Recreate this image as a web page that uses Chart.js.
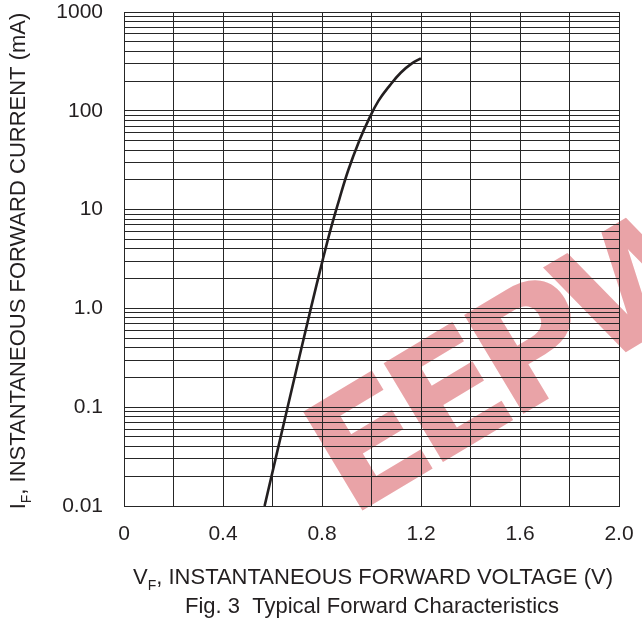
<!DOCTYPE html>
<html>
<head>
<meta charset="utf-8">
<script src="https://cdn.jsdelivr.net/npm/chart.js@4.4.1/dist/chart.umd.min.js"></script>
<style>
html, body { margin: 0; padding: 0; background: #fff; }
</style>
</head>
<body>
<canvas id="myChart" width="642" height="622"></canvas>
<script>
// forward voltage (V) vs instantaneous forward current (mA)
const vf = [0.568, 0.661, 0.755, 0.803, 0.834, 0.869, 0.906, 0.951, 0.988, 1.028, 1.075, 1.119, 1.162, 1.2];
const ifw = [0.01, 0.1, 1.0, 3.1, 6.2, 12.5, 25, 50, 81, 126, 182, 244, 300, 340];

const xLabels = ['0', '0.4', '0.8', '1.2', '1.6', '2.0'];
const yDecades = [0.01, 0.1, 1, 10, 100, 1000];
const yLabels = ['0.01', '0.1', '1.0', '10', '100', '1000'];
const yMinor = [1, 2, 3, 4, 5, 6, 7, 8, 9];

const xTitle = ['V', 'F', ', INSTANTANEOUS FORWARD VOLTAGE (V)'];
const yTitle = ['I', 'F', ', INSTANTANEOUS FORWARD CURRENT (mA)'];
const caption = 'Fig. 3  Typical Forward Characteristics';
const mark = 'EEPW';

const FONT = '"Liberation Sans", Arial, sans-serif';
const INK = '#231f20';
const GRID = '#262626';

// grid every 1..9 per decade, like the log paper
let yGrid = [];
yDecades.slice(0, -1).forEach(d => {
    yMinor.forEach(m => yGrid.push(Number((d * m).toPrecision(6))));
});
yGrid.push(1000);

function drawSub(ctx, parts, big, small, drop) {
    ctx.font = big + 'px ' + FONT;
    const w0 = ctx.measureText(parts[0]).width;
    const w2 = ctx.measureText(parts[2]).width;
    ctx.font = small + 'px ' + FONT;
    const w1 = ctx.measureText(parts[1]).width;
    let x = -(w0 + w1 + w2) / 2;
    ctx.textAlign = 'left';
    ctx.textBaseline = 'alphabetic';
    ctx.font = big + 'px ' + FONT;
    ctx.fillText(parts[0], x, 0);
    x += w0;
    ctx.font = small + 'px ' + FONT;
    ctx.fillText(parts[1], x, drop);
    x += w1;
    ctx.font = big + 'px ' + FONT;
    ctx.fillText(parts[2], x, 0);
}

const watermark = {
    id: 'watermark',
    beforeDraw(chart) {
        const ctx = chart.ctx;
        ctx.save();
        ctx.fillStyle = '#fff';
        ctx.fillRect(0, 0, chart.width, chart.height);
        ctx.translate(350, 518);
        ctx.rotate(-31 * Math.PI / 180);
        ctx.font = 'bold 158px "DejaVu Sans"';
        ctx.letterSpacing = '-14px';
        ctx.fillStyle = '#e9a3a7';
        ctx.textBaseline = 'alphabetic';
        ctx.fillText(mark, 0, 0);
        ctx.restore();
    }
};

const titles = {
    id: 'titles',
    afterDraw(chart) {
        const ctx = chart.ctx;
        ctx.save();
        ctx.fillStyle = INK;
        ctx.save();
        ctx.translate(373, 584);
        drawSub(ctx, xTitle, 22, 14, 6);
        ctx.restore();
        ctx.save();
        ctx.translate(25, 261);
        ctx.rotate(-Math.PI / 2);
        drawSub(ctx, yTitle, 22, 14, 6);
        ctx.restore();
        ctx.font = '22px ' + FONT;
        ctx.textAlign = 'center';
        ctx.fillText(caption, 372, 613);
        ctx.restore();
    }
};

const ctx = document.getElementById('myChart').getContext('2d');
const myChart = new Chart(ctx, {
    type: 'line',
    data: {
        datasets: [{
            data: vf.map((v, i) => ({ x: v, y: ifw[i] })),
            borderColor: INK,
            borderWidth: 2.6,
            pointRadius: 0,
            fill: false,
            tension: 0.4
        }]
    },
    options: {
        responsive: false,
        animation: false,
        devicePixelRatio: 1,
        layout: { padding: { top: 12, right: 23, bottom: 0, left: 0 } },
        plugins: { legend: { display: false }, tooltip: { enabled: false } },
        scales: {
            x: {
                type: 'linear',
                min: 0,
                max: 2,
                afterFit(s) {
                    s.height = 116;
                    s.paddingLeft = 0;
                    s.paddingRight = 0;
                },
                ticks: {
                    stepSize: 0.2,
                    autoSkip: false,
                    maxRotation: 0,
                    padding: 16,
                    color: INK,
                    font: { family: FONT, size: 21 },
                    callback: (v, i) => (i % 2 === 0 ? xLabels[i / 2] : '')
                },
                grid: { color: GRID, lineWidth: 1, drawTicks: false },
                border: { color: GRID }
            },
            y: {
                type: 'logarithmic',
                min: 0.01,
                max: 1000,
                afterFit(s) {
                    s.width = 124;
                    s.paddingTop = 0;
                    s.paddingBottom = 0;
                },
                afterBuildTicks(s) { s.ticks = yGrid.map(v => ({ value: v })); },
                ticks: {
                    autoSkip: false,
                    padding: 21,
                    color: INK,
                    font: { family: FONT, size: 21 },
                    callback: (v) => {
                        const k = yDecades.indexOf(v);
                        return k >= 0 ? yLabels[k] : '';
                    }
                },
                grid: { color: GRID, lineWidth: 1, drawTicks: false },
                border: { color: GRID }
            }
        }
    },
    plugins: [watermark, titles]
});
</script>
</body>
</html>
